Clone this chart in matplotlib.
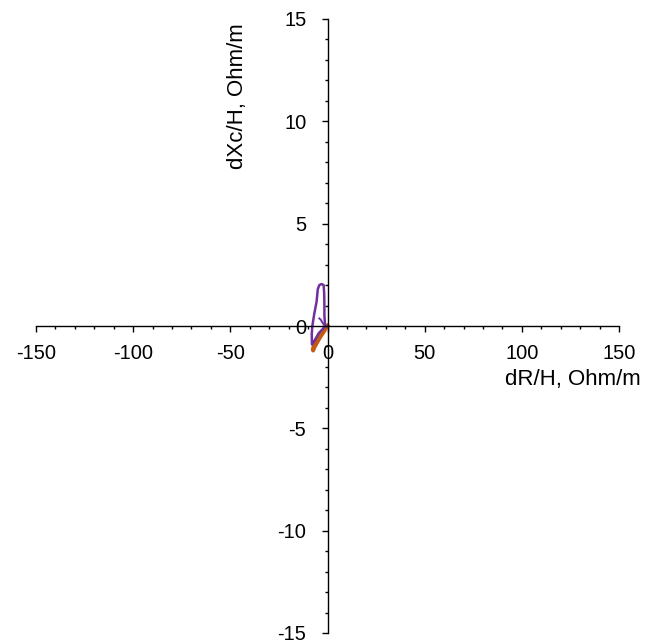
import matplotlib
matplotlib.use("Agg")
import matplotlib.pyplot as plt
from matplotlib.ticker import MultipleLocator

plt.rcParams['font.family'] = ['Liberation Sans', 'DejaVu Sans']

# Purple loop (dR/H, dXc/H)
purple_x = [-1.3, -1.6, -1.6, -1.7, -2.0, -3.0, -4.2, -5.0, -5.3, -5.6, -6.2, -6.8,
            -7.3, -7.8, -8.1, -8.0, -7.2, -6.0, -4.5, -3.0, -1.8, -1.0, -0.6]
purple_y = [0.1, 0.5, 1.0, 1.6, 2.0, 2.05, 2.0, 1.8, 1.5, 1.2, 0.9, 0.6,
            0.3, 0.0, -0.4, -0.9, -0.8, -0.6, -0.35, -0.2, -0.08, 0.0, 0.0]
hook_x = [-4.2, -3.4, -2.5, -1.3]
hook_y = [0.37, 0.30, 0.15, 0.0]

# Orange loop
orange_x = [0.0, -1.5, -3.0, -4.5, -6.0, -7.0, -7.6, -7.4, -6.5, -5.0, -3.5, -2.0, -0.8, 0.0]
orange_y = [0.0, -0.15, -0.35, -0.55, -0.75, -0.95, -1.15, -1.2, -1.0, -0.75, -0.5, -0.3, -0.1, 0.0]

x_ticks = [-150, -100, -50, 0, 50, 100, 150]
y_ticks = [-15, -10, -5, 0, 5, 10, 15]

fig = plt.figure(figsize=(6.46, 6.44), dpi=100)
ax = fig.add_axes([36/646, 1-633/644, 583/646, 614/644])

ax.plot(orange_x, orange_y, color='#c55a11', lw=2.8, solid_joinstyle='round')
ax.plot(purple_x, purple_y, color='#7030a0', lw=1.8)
ax.plot(hook_x, hook_y, color='#7030a0', lw=1.4)

ax.set_xlim(-150, 150)
ax.set_ylim(-15, 15)
ax.spines['left'].set_position(('data', 0))
ax.spines['bottom'].set_position(('data', 0))
ax.spines['top'].set_visible(False)
ax.spines['right'].set_visible(False)
for s in ('left', 'bottom'):
    ax.spines[s].set_linewidth(1.0)
    ax.spines[s].set_color('black')

ax.set_xticks(x_ticks)
ax.set_yticks(y_ticks)
ax.set_xticklabels([str(v) for v in x_ticks])
ax.set_yticklabels([str(v) for v in y_ticks])
ax.xaxis.set_minor_locator(MultipleLocator(10))
ax.yaxis.set_minor_locator(MultipleLocator(1))
ax.tick_params(which='major', direction='out', length=4.3, width=1, labelsize=14.5, colors='black')
ax.tick_params(which='minor', direction='out', length=2.2, width=1, colors='black')
ax.tick_params(axis='x', which='major', pad=9)
ax.tick_params(axis='y', which='major', pad=11)

fig.text(641/646, 1-379/644, 'dR/H, Ohm/m', ha='right', va='center', fontsize=16)
fig.text(237/646, 1-96/644, 'dXc/H, Ohm/m', ha='center', va='center', rotation=90, fontsize=16)

fig.savefig('out.png', dpi=100)
